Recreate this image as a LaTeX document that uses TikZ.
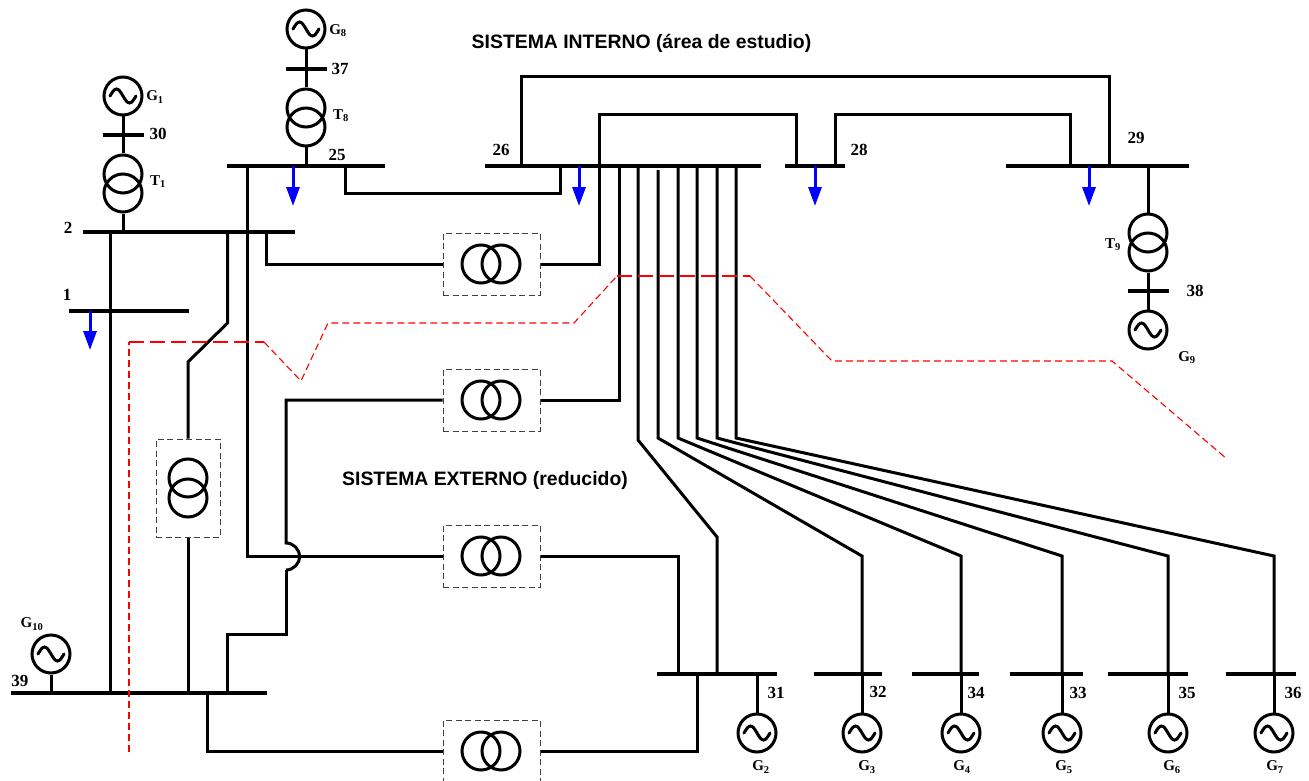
\documentclass[tikz,border=0pt]{standalone}
\usepackage{fontspec}
\setmainfont{Liberation Serif}
\newfontfamily\headfont{Liberation Sans}
\usetikzlibrary{arrows.meta}
\tikzset{
  line/.style={draw,line width=3pt,line join=miter},
  bus/.style={rectangle,fill=black,inner sep=0pt,outer sep=0pt,minimum height=3.2pt},
  xfmr/.style={circle,draw,line width=3pt,inner sep=0pt,minimum size=38pt},
  gen/.style={xfmr,path picture={
      \draw[line width=3pt,line cap=round,shift={(path picture bounding box.center)}]
        (-13,0) sin (-6.5,-7) cos (0,0) sin (6.5,7) cos (13,0);}},
  cage/.style={draw=black!75,dash pattern=on 6pt off 3.5pt,line width=1pt,inner sep=0pt},
  load/.style={draw=blue,line width=3pt,-{Triangle[length=19pt,width=13pt]}},
  lab/.style={font=\fontsize{17}{17}\selectfont\bfseries,inner sep=0pt},
  sublab/.style={font=\fontsize{15}{15}\selectfont\bfseries,inner sep=0pt},
  head/.style={font=\fontsize{19.4}{20}\selectfont\headfont\bfseries,inner sep=0pt},
  seam/.style={draw=red,line width=1.1pt,dash pattern=on 7pt off 4pt},
  seamb/.style={draw=red,line width=1.5pt,dash pattern=on 15pt off 6pt}
}
\begin{document}
\begin{tikzpicture}[x=1pt,y=-1pt]
\useasboundingbox (0,0) rectangle (1309,781);
% buses
\node[bus,minimum width=212pt](b2) at (189,232){};
\node[bus,minimum width=120pt](b1) at (129,311){};
\node[bus,minimum width=41pt](b30) at (123,135){};
\node[bus,minimum width=41pt](b37) at (306,69){};
\node[bus,minimum width=158pt](b25) at (306,166){};
\node[bus,minimum width=276pt](b26) at (623,166){};
\node[bus,minimum width=60pt](b28) at (815,166){};
\node[bus,minimum width=183pt](b29) at (1097,166){};
\node[bus,minimum width=41pt](b38) at (1148,291){};
\node[bus,minimum width=256pt](b39) at (139,693){};
\node[bus,minimum width=120pt](b31) at (717,674){};
\node[bus,minimum width=68pt](b32) at (848,674){};
\node[bus,minimum width=67pt](b34) at (945.5,674){};
\node[bus,minimum width=73pt](b33) at (1046.5,674){};
\node[bus,minimum width=80pt](b35) at (1148,674){};
\node[bus,minimum width=70pt](b36) at (1261,674){};
% generators
\node[gen](G1) at (123,96){};
\node[gen](G8) at (306,29){};
\node[gen](G9) at (1148,330){};
\node[gen](G10) at (51,654){};
\node[gen](G2) at (757,733){};
\node[gen](G3) at (862,733){};
\node[gen](G4) at (961,733){};
\node[gen](G5) at (1062,733){};
\node[gen](G6) at (1168,733){};
\node[gen](G7) at (1274,733){};
% transformers
\node[xfmr](T1a) at (123,174){};
\node[xfmr](T1b) at (123,193){};
\node[xfmr](T8a) at (306,108){};
\node[xfmr](T8b) at (306,127){};
\node[xfmr](T9a) at (1148,233){};
\node[xfmr](T9b) at (1148,252){};
% dashed boxes
\node[cage,minimum width=97pt,minimum height=62pt](cA) at (491.5,264){};
\node[xfmr](cA1) at (481,264){};
\node[xfmr](cA2) at (501,264){};
\node[cage,minimum width=97pt,minimum height=62pt](cB) at (491.5,400){};
\node[xfmr](cB1) at (481,400){};
\node[xfmr](cB2) at (501,400){};
\node[cage,minimum width=97pt,minimum height=62pt](cC) at (491.5,556){};
\node[xfmr](cC1) at (481,556){};
\node[xfmr](cC2) at (501,556){};
\node[cage,minimum width=97pt,minimum height=62pt](cD) at (491.5,751){};
\node[xfmr](cD1) at (481,751){};
\node[xfmr](cD2) at (501,751){};
\node[cage,minimum width=64pt,minimum height=98pt](cE) at (188,488){};
\node[xfmr](cE1) at (188,478){};
\node[xfmr](cE2) at (188,498){};
% bend points
\coordinate(p1) at (110,232);
\coordinate(p2) at (227.5,323);
\coordinate(p3) at (188,362);
\coordinate(p4) at (247,556);
\coordinate(p5) at (266,264);
\coordinate(p6) at (345,193);
\coordinate(p7) at (560,193);
\coordinate(p8) at (521,77);
\coordinate(p9) at (1109,77);
\coordinate(p10) at (599,115);
\coordinate(p11) at (796,115);
\coordinate(p12) at (835,115);
\coordinate(p13) at (1070,115);
\coordinate(p14) at (599,264);
\coordinate(p15) at (619,400);
\coordinate(p16) at (286,400);
\coordinate(p17) at (286,543);
\coordinate(p18) at (286,570);
\coordinate(p19) at (286,634);
\coordinate(p20) at (227,634);
\coordinate(p21) at (678,556);
\coordinate(p22) at (207,751);
\coordinate(p23) at (697,751);
% fan of lines to the lower buses
\coordinate(f1) at (638,440);
\coordinate(f1b) at (717,537);
\coordinate(f2t) at (658,170);
\coordinate(f2) at (658,438);
\coordinate(f2b) at (862,556);
\coordinate(f3) at (678,438);
\coordinate(f3b) at (961,556);
\coordinate(f4) at (697,438);
\coordinate(f4b) at (1062,556);
\coordinate(f5) at (717,438);
\coordinate(f5b) at (1168,556);
\coordinate(f6) at (736,438);
\coordinate(f6b) at (1274,556);
% connectors
\draw[line](G1)--(T1a);
\draw[line](T1b)--(T1b |- b2);
\draw[line](G8)--(T8a);
\draw[line](T8b)--(T8b |- b25);
\draw[line](T9a |- b29)--(T9a);
\draw[line](T9b)--(G9);
\draw[line](G10)--(G10 |- b39);
\draw[line](p1)--(p1 |- b39);
\draw[line](p2 |- b2)--(p2)--(p3)--(cE.north);
\draw[line](cE.south)--(cE.south |- b39);
\draw[line](p4 |- b25)--(p4)--(cC.west);
\draw[line](p5 |- b2)--(p5)--(cA.west);
\draw[line](p6 |- b25)--(p6)--(p7)--(p7 |- b26);
\draw[line](p8 |- b26)--(p8)--(p9)--(p9 |- b29);
\draw[line](p10 |- b26)--(p10)--(p11)--(p11 |- b28);
\draw[line](p12 |- b28)--(p12)--(p13)--(p13 |- b29);
\draw[line](p14 |- b26)--(p14)--(cA.east);
\draw[line](p15 |- b26)--(p15)--(cB.east);
\draw[line](cB.west)--(p16)--(p17) arc[start angle=-90,end angle=90,radius=13.5pt,y radius=-13.5pt];
\draw[line](p18)--(p19)--(p20)--(p20 |- b39);
\draw[line](cC.east)--(p21)--(p21 |- b31);
\draw[line](p22 |- b39)--(p22)--(cD.west);
\draw[line](cD.east)--(p23)--(p23 |- b31);
\draw[line](f1 |- b26)--(f1)--(f1b)--(f1b |- b31);
\draw[line](f2t)--(f2)--(f2b)--(f2b |- b32);
\draw[line](f3 |- b26)--(f3)--(f3b)--(f3b |- b34);
\draw[line](f4 |- b26)--(f4)--(f4b)--(f4b |- b33);
\draw[line](f5 |- b26)--(f5)--(f5b)--(f5b |- b35);
\draw[line](f6 |- b26)--(f6)--(f6b)--(f6b |- b36);
\draw[line](G2 |- b31)--(G2);
\draw[line](G3 |- b32)--(G3);
\draw[line](G4 |- b34)--(G4);
\draw[line](G5 |- b33)--(G5);
\draw[line](G6 |- b35)--(G6);
\draw[line](G7 |- b36)--(G7);
% loads
\coordinate(l1) at (90,350);
\coordinate(l25) at (293,206);
\coordinate(l26) at (579,206);
\coordinate(l28) at (815,206);
\coordinate(l29) at (1089,206);
\draw[load](l1 |- b1)--(l1);
\draw[load](l25 |- b25)--(l25);
\draw[load](l26 |- b26)--(l26);
\draw[load](l28 |- b28)--(l28);
\draw[load](l29 |- b29)--(l29);
% boundary between the two systems
\coordinate(r1) at (129,752);
\coordinate(r2) at (129,342);
\coordinate(r3) at (264,342);
\coordinate(r4) at (301,381);
\coordinate(r5) at (328,323);
\coordinate(r6) at (574,323);
\coordinate(r7) at (617,276);
\coordinate(r8) at (750,276);
\coordinate(r9) at (832,361);
\coordinate(r10) at (1112,361);
\coordinate(r11) at (1227,459);
\draw[seam](r1)--(r2);
\draw[seamb](r2)--(r3);
\draw[seam](r3)--(r4)--(r5)--(r6)--(r7);
\draw[seamb](r7)--(r8);
\draw[seam](r8)--(r9)--(r10)--(r11);
% labels
\node[head](tI) at (641.5,43){SISTEMA INTERNO (área de estudio)};
\node[head](tE) at (485,480){SISTEMA EXTERNO (reducido)};
\node[lab](n1) at (67,295){1};
\node[lab](n2) at (68,228){2};
\node[lab](n25) at (337,155){25};
\node[lab](n26) at (501,150){26};
\node[lab](n28) at (859,150){28};
\node[lab](n29) at (1136,138){29};
\node[lab](n30) at (158,134){30};
\node[lab](n37) at (340,69){37};
\node[lab](n38) at (1195,291){38};
\node[lab](n39) at (20,681){39};
\node[lab](n31) at (776,693){31};
\node[lab](n32) at (878,692){32};
\node[lab](n34) at (976,693){34};
\node[lab](n33) at (1078,693){33};
\node[lab](n35) at (1187,693){35};
\node[lab](n36) at (1293,693){36};
\node[sublab](nG1) at (155,97){G\textsubscript{1}};
\node[sublab](nG8) at (338,31){G\textsubscript{8}};
\node[sublab](nG9) at (1187,358){G\textsubscript{9}};
\node[sublab](nG10) at (32,624){G\textsubscript{10}};
\node[sublab](nG2) at (761,767){G\textsubscript{2}};
\node[sublab](nG3) at (867,767){G\textsubscript{3}};
\node[sublab](nG4) at (962,767){G\textsubscript{4}};
\node[sublab](nG5) at (1064,767){G\textsubscript{5}};
\node[sublab](nG6) at (1172,767){G\textsubscript{6}};
\node[sublab](nG7) at (1275,767){G\textsubscript{7}};
\node[sublab](nT1) at (158,182){T\textsubscript{1}};
\node[sublab](nT8) at (341,116){T\textsubscript{8}};
\node[sublab](nT9) at (1113,245){T\textsubscript{9}};
\end{tikzpicture}
\end{document}
